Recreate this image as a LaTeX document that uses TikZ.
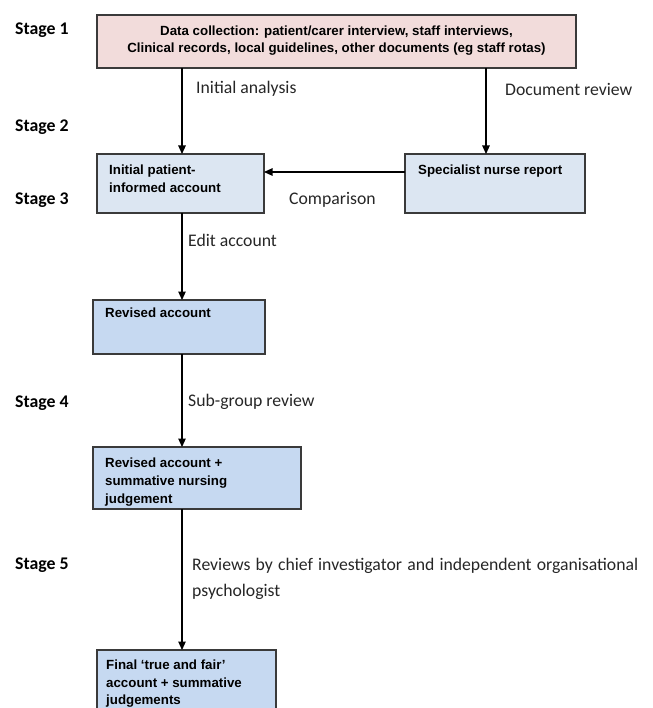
\documentclass[tikz,border=0pt]{standalone}
\usepackage{fontspec}
\setmainfont{Liberation Sans}
\newfontfamily\calfont{Carlito}
\usetikzlibrary{arrows.meta,calc}
\definecolor{pinkc}{HTML}{F2DCDB}
\definecolor{lightb}{HTML}{DCE6F2}
\definecolor{midb}{HTML}{C6D9F1}
\definecolor{edge}{HTML}{3A3A3A}
\begin{document}
\begin{tikzpicture}[x=1pt,y=-1pt,
  box/.style={draw=edge,line width=1.2pt,rectangle,inner sep=0pt,outer sep=0pt,anchor=north west},
  boxtext/.style={font=\fontsize{13.3}{17.3}\selectfont\bfseries,align=left,anchor=north west,inner sep=0pt},
  lab/.style={font=\calfont\fontsize{17.7}{26}\selectfont,anchor=west,inner sep=0pt,text=black!85},
  stage/.style={font=\calfont\fontsize{17.8}{20}\selectfont\bfseries,anchor=west,inner sep=0pt},
  arr/.style={draw=black,line width=1.1pt,-{Triangle[width=7.5pt,length=8.5pt]}}]
\useasboundingbox (0,0) rectangle (652,708);
\clip (0,0) rectangle (652,708);
% boxes
\node[box,fill=pinkc,minimum width=479pt,minimum height=53pt] (data) at (97,15) {};
\node[font=\fontsize{13.3}{17}\selectfont\bfseries,align=center,inner sep=0pt] (datat) at ($(data.center)+(0,-1)$) {Data collection: patient/carer interview, staff interviews,\\Clinical records, local guidelines, other documents (eg staff rotas)};
\node[box,fill=lightb,minimum width=167pt,minimum height=59pt] (init) at (97,154) {};
\node[boxtext] (initt) at (109,165) {Initial patient-\\informed account};
\node[box,fill=lightb,minimum width=180pt,minimum height=59pt] (spec) at (405,154) {};
\node[boxtext] (spect) at (418,165) {Specialist nurse report};
\node[box,fill=midb,minimum width=172pt,minimum height=54pt] (rev) at (93,300) {};
\node[boxtext] (revt) at (105,308) {Revised account};
\node[box,fill=midb,minimum width=208pt,minimum height=62pt] (revp) at (93,447) {};
\node[boxtext,font=\fontsize{13.3}{17.6}\selectfont\bfseries] (revpt) at (105,458) {Revised account +\\summative nursing\\judgement};
\node[box,fill=midb,minimum width=179pt,minimum height=80pt] (final) at (97,650) {};
\node[boxtext,font=\fontsize{13.3}{17.3}\selectfont\bfseries] (finalt) at (106,660) {Final `true and fair'\\account + summative\\judgements};
% stage labels
\node[stage] (s1) at (15,30) {Stage 1};
\node[stage] (s2) at (15,127) {Stage 2};
\node[stage] (s3) at (15,200) {Stage 3};
\node[stage] (s4) at (15,403) {Stage 4};
\node[stage] (s5) at (15,565) {Stage 5};
% connectors
\coordinate (cx) at (182,0);
\coordinate (rx) at (486,0);
\draw[arr] (data.south -| cx) -- (init.north -| cx);
\draw[arr] (data.south -| rx) -- (spec.north -| rx);
\draw[arr] ($(spec.north west)+(0,18)$) -- ($(init.north east)+(0,18)$);
\draw[arr] (init.south -| cx) -- (rev.north -| cx);
\draw[arr] (rev.south -| cx) -- (revp.north -| cx);
\draw[arr] (revp.south -| cx) -- (final.north -| cx);
% connector labels
\node[lab] (l1) at (196,89) {Initial analysis};
\node[lab] (l2) at (505,89) {Document review};
\node[lab] (l3) at (289,200) {Comparison};
\node[lab] (l4) at (188,240) {Edit account};
\node[lab] (l5) at (188,402) {Sub-group review};
\node[lab,align=left,anchor=north west] (l6) at (192,558) {\hbox to 446pt{Reviews by chief investigator and independent organisational}\\psychologist};
\end{tikzpicture}
\end{document}
